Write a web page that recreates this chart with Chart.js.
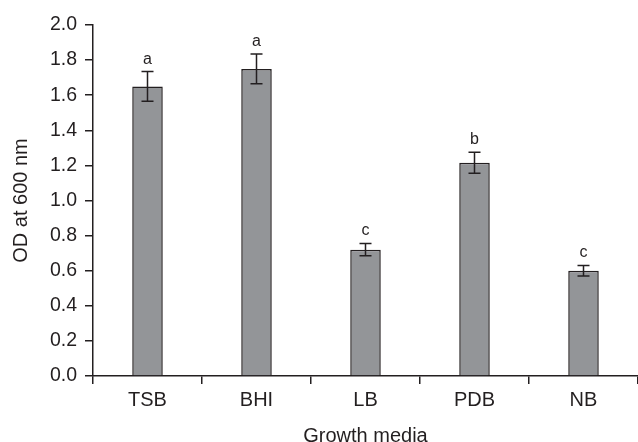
<!DOCTYPE html>
<html>
<head>
<meta charset="utf-8">
<script src="https://cdn.jsdelivr.net/npm/chart.js@4/dist/chart.umd.min.js"></script>
<style>
  html, body { margin: 0; padding: 0; background: #fff; }
  #wrap { width: 638px; height: 442px; }
</style>
</head>
<body>
<div id="wrap"><canvas id="odChart"></canvas></div>
<script>
// データ
const media = ["TSB", "BHI", "LB", "PDB", "NB"];
const odValues = [1.65, 1.75, 0.72, 1.215, 0.60];
const odErrors = [0.085, 0.085, 0.035, 0.06, 0.03];
const groupLetters = ["a", "a", "c", "b", "c"];
const yTicks = ["0.0", "0.2", "0.4", "0.6", "0.8", "1.0", "1.2", "1.4", "1.6", "1.8", "2.0"];

const inkColor = "#231f20";
const fontFamily = "'Liberation Sans', Arial, sans-serif";

// エラーバーと有意差の文字を描く
const errorBarPlugin = {
  id: "errorBars",
  afterDatasetsDraw(chart) {
    const ctx = chart.ctx;
    const yScale = chart.scales.y;
    const meta = chart.getDatasetMeta(0);
    ctx.save();
    ctx.strokeStyle = inkColor;
    ctx.lineWidth = 1.5;
    meta.data.forEach((bar, i) => {
      const x = bar.x;
      const top = yScale.getPixelForValue(odValues[i] + odErrors[i]);
      const bottom = yScale.getPixelForValue(odValues[i] - odErrors[i]);
      ctx.beginPath();
      ctx.moveTo(x, top);
      ctx.lineTo(x, bottom);
      ctx.moveTo(x - 6, top);
      ctx.lineTo(x + 6, top);
      ctx.moveTo(x - 6, bottom);
      ctx.lineTo(x + 6, bottom);
      ctx.stroke();

      ctx.fillStyle = inkColor;
      ctx.font = "16px " + fontFamily;
      ctx.textAlign = "center";
      ctx.textBaseline = "alphabetic";
      ctx.fillText(groupLetters[i], x, top - 8);
    });
    ctx.restore();
  }
};

new Chart(document.getElementById("odChart"), {
  type: "bar",
  data: {
    labels: media,
    datasets: [{
      data: odValues,
      backgroundColor: "#939598",
      borderColor: inkColor,
      borderWidth: 1.5,
      barPercentage: 0.28,
      categoryPercentage: 1.0,
    }]
  },
  options: {
    responsive: true,
    maintainAspectRatio: false,
    animation: false,
    layout: { padding: { top: 25, right: 0, left: 0, bottom: 0 } },
    plugins: {
      legend: { display: false },
      tooltip: { enabled: false },
    },
    scales: {
      x: {
        offset: true,
        grid: {
          offset: true,
          drawOnChartArea: false,
          drawTicks: true,
          tickLength: 8,
          color: inkColor,
          lineWidth: 1.5,
        },
        border: { display: true, color: inkColor, width: 1.5 },
        ticks: {
          color: "#231f20",
          font: { family: fontFamily, size: 20 },
          padding: 4,
        },
        title: {
          display: true,
          text: "Growth media",
          color: "#231f20",
          font: { family: fontFamily, size: 20 },
          padding: { top: 4, bottom: -6 },
        },
        afterFit(scale) { scale.height = 66; },
      },
      y: {
        min: 0,
        max: 2.0,
        grid: {
          drawOnChartArea: false,
          drawTicks: true,
          tickLength: 8,
          color: inkColor,
          lineWidth: 1.5,
        },
        border: { display: true, color: inkColor, width: 1.5 },
        ticks: {
          stepSize: 0.2,
          color: "#231f20",
          font: { family: fontFamily, size: 19.5 },
          padding: 8,
          callback: (value, index) => yTicks[index],
        },
        title: {
          display: true,
          text: "OD at 600 nm",
          color: "#231f20",
          font: { family: fontFamily, size: 20 },
          padding: { top: 9, bottom: 0 },
        },
        afterFit(scale) { scale.width = 93; },
      }
    }
  },
  plugins: [errorBarPlugin],
});
</script>
</body>
</html>
